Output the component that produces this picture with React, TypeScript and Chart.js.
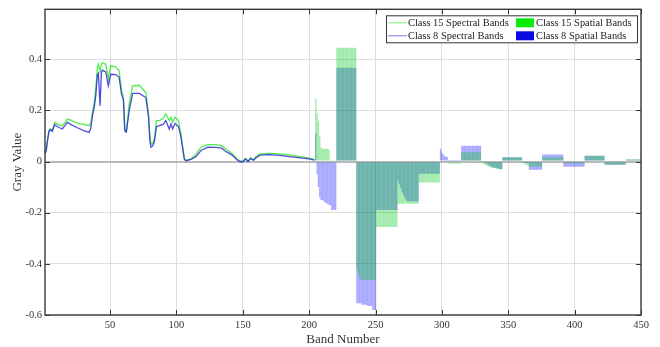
import React, { useEffect, useRef } from "react";
import { Chart, registerables } from "chart.js";

Chart.register(...registerables);

const xTickValues = [50, 100, 150, 200, 250, 300, 350, 400, 450];
const yTickValues = [-0.6, -0.4, -0.2, 0, 0.2, 0.4];

// Spectral bands (lines)
const spectralBands = [
  1, 2, 3, 4, 5, 6.5, 8.3, 10.3, 12, 14, 16, 17.8, 20.4, 23, 25.4, 28, 30.4, 32, 34.2, 35.5,
  36.7, 38, 39.3, 40.5, 41.2, 42.5, 43.5, 44.3, 46.8, 48.7, 50.5, 54.3, 56.8, 58.7, 60.1, 61.1,
  62.3, 64.4, 67, 72, 77, 79, 80, 80.8, 82, 83.3, 85, 87, 90, 92, 94.6, 95.9, 97.1, 99, 101.6,
  103.4, 106, 107.2, 111, 114.8, 118.5, 123.5, 130, 134, 137, 142, 146, 148, 150, 152, 154, 156,
  158, 160, 163, 170, 178, 185, 192, 200, 204,
];
const class15Spectral = [
  0.03, 0.05, 0.09, 0.12, 0.127, 0.12, 0.153, 0.146, 0.142, 0.14, 0.152, 0.166, 0.162, 0.155, 0.15,
  0.147, 0.145, 0.143, 0.14, 0.15, 0.19, 0.225, 0.29, 0.367, 0.38, 0.352, 0.383, 0.386, 0.38, 0.325,
  0.374, 0.37, 0.356, 0.276, 0.25, 0.125, 0.118, 0.224, 0.296, 0.298, 0.27, 0.186, 0.1, 0.068, 0.07,
  0.088, 0.16, 0.16, 0.168, 0.186, 0.16, 0.173, 0.153, 0.173, 0.16, 0.108, 0.01, 0.004, 0.01, 0.03,
  0.056, 0.066, 0.066, 0.062, 0.05, 0.03, 0.008, 0.002, 0.0, 0.012, 0.002, 0.014, 0.006, 0.02, 0.03,
  0.032, 0.03, 0.026, 0.02, 0.013, 0.008,
];
const class8Spectral = [
  0.028, 0.045, 0.085, 0.118, 0.125, 0.118, 0.144, 0.137, 0.132, 0.127, 0.14, 0.153, 0.145, 0.138,
  0.132, 0.126, 0.12, 0.118, 0.114, 0.13, 0.178, 0.21, 0.26, 0.34, 0.345, 0.218, 0.35, 0.357, 0.35,
  0.296, 0.341, 0.34, 0.33, 0.263, 0.24, 0.12, 0.115, 0.198, 0.266, 0.266, 0.25, 0.173, 0.082, 0.056,
  0.06, 0.075, 0.136, 0.14, 0.145, 0.16, 0.127, 0.147, 0.127, 0.149, 0.136, 0.095, 0.008, 0.003,
  0.008, 0.02, 0.043, 0.056, 0.055, 0.052, 0.04, 0.025, 0.005, 0.0, -0.002, 0.01, 0.0, 0.012, 0.005,
  0.015, 0.025, 0.027, 0.024, 0.019, 0.015, 0.01, 0.005,
];

// Spatial bands (bars), bands 205..450
const spatialBands = [
  205, 206, 207, 208, 209, 210, 211, 212, 213, 214, 215, 216, 217, 218, 219, 220,
  221, 222, 223, 224, 225, 226, 227, 228, 229, 230, 231, 232, 233, 234, 235,
  236, 237, 238, 239, 240, 241, 242, 243, 244, 245, 246, 247, 248, 249, 250,
  251, 252, 253, 254, 255, 256, 257, 258, 259, 260, 261, 262, 263, 264, 265, 266,
  267, 268, 269, 270, 271, 272, 273, 274, 275, 276, 277, 278, 279, 280, 281, 282,
  283, 284, 285, 286, 287, 288, 289, 290, 291, 292, 293, 294, 295, 296, 297, 298,
  299, 300, 301, 302, 303, 304, 305, 306, 307, 308, 309, 310, 311, 312, 313, 314,
  315, 316, 317, 318, 319, 320, 321, 322, 323, 324, 325, 326, 327, 328, 329,
  330, 331, 332, 333, 334, 335, 336, 337, 338, 339, 340, 341, 342, 343, 344, 345,
  346, 347, 348, 349, 350, 351, 352, 353, 354, 355, 356, 357, 358, 359, 360,
  361, 362, 363, 364, 365, 366, 367, 368, 369, 370, 371, 372, 373, 374, 375,
  376, 377, 378, 379, 380, 381, 382, 383, 384, 385, 386, 387, 388, 389, 390, 391,
  392, 393, 394, 395, 396, 397, 398, 399, 400, 401, 402, 403, 404, 405, 406, 407,
  408, 409, 410, 411, 412, 413, 414, 415, 416, 417, 418, 419, 420, 421, 422,
  423, 424, 425, 426, 427, 428, 429, 430, 431, 432, 433, 434, 435, 436, 437, 438,
  439, 440, 441, 442, 443, 444, 445, 446, 447, 448, 449, 450,
];
const class15Spatial = [
  0.245, 0.19, 0.155, 0.1, 0.055, 0.05, 0.05, 0.05, 0.05, 0.05, 0.045, 0.003, 0.003, 0.003, 0.003, 0.003,
  0.445, 0.445, 0.445, 0.445, 0.445, 0.445, 0.445, 0.445, 0.445, 0.445, 0.445, 0.445, 0.445, 0.445, 0.445,
  -0.42, -0.44, -0.455, -0.463, -0.463, -0.463, -0.463, -0.463, -0.463, -0.463, -0.463, -0.463, -0.463, -0.463, -0.463,
  -0.256, -0.256, -0.256, -0.256, -0.256, -0.256, -0.256, -0.256, -0.256, -0.256, -0.256, -0.256, -0.256, -0.256, -0.256, -0.256,
  -0.165, -0.165, -0.165, -0.165, -0.165, -0.165, -0.165, -0.165, -0.165, -0.165, -0.165, -0.165, -0.165, -0.165, -0.165, -0.165,
  -0.082, -0.082, -0.082, -0.082, -0.082, -0.082, -0.082, -0.082, -0.082, -0.082, -0.082, -0.082, -0.082, -0.082, -0.082, -0.082,
  0.0, 0.0, 0.0, 0.0, 0.0, 0.0, -0.008, -0.008, -0.008, -0.008, -0.008, -0.008, -0.008, -0.008, -0.008, -0.008,
  0.036, 0.036, 0.036, 0.036, 0.036, 0.036, 0.036, 0.036, 0.036, 0.036, 0.036, 0.036, 0.036, 0.036, 0.036,
  -0.005, -0.008, -0.011, -0.014, -0.017, -0.019, -0.021, -0.023, -0.024, -0.025, -0.026, -0.027, -0.028, -0.029, -0.03, -0.03,
  0.017, 0.017, 0.017, 0.017, 0.017, 0.017, 0.017, 0.017, 0.017, 0.017, 0.017, 0.017, 0.017, 0.017, 0.017,
  -0.004, -0.008, -0.012, -0.015, -0.018, -0.02, -0.02, -0.02, -0.02, -0.02, -0.02, -0.02, -0.02, -0.02, -0.02,
  0.017, 0.017, 0.017, 0.017, 0.017, 0.017, 0.017, 0.017, 0.017, 0.017, 0.017, 0.017, 0.017, 0.017, 0.017, 0.017,
  -0.008, -0.008, -0.008, -0.008, -0.008, -0.008, -0.008, -0.008, -0.008, -0.008, -0.008, -0.008, -0.008, -0.008, -0.008, -0.008,
  0.023, 0.023, 0.023, 0.023, 0.023, 0.023, 0.023, 0.023, 0.023, 0.023, 0.023, 0.023, 0.023, 0.023, 0.023,
  -0.013, -0.013, -0.013, -0.013, -0.013, -0.013, -0.013, -0.013, -0.013, -0.013, -0.013, -0.013, -0.013, -0.013, -0.013, -0.013,
  0.008, 0.008, 0.008, 0.008, 0.008, 0.008, 0.008, 0.008, 0.008, 0.008, 0.008, 0.008,
];
const class8Spatial = [
  0.11, -0.05, -0.1, -0.14, -0.15, -0.15, -0.155, -0.16, -0.163, -0.166, -0.17, -0.172, -0.19, -0.19, -0.19, -0.19,
  0.367, 0.367, 0.367, 0.367, 0.367, 0.367, 0.367, 0.367, 0.367, 0.367, 0.367, 0.367, 0.367, 0.367, 0.367,
  -0.554, -0.554, -0.554, -0.554, -0.56, -0.56, -0.56, -0.56, -0.565, -0.565, -0.565, -0.565, -0.58, -0.58, -0.58,
  -0.19, -0.19, -0.19, -0.19, -0.19, -0.19, -0.19, -0.19, -0.19, -0.19, -0.19, -0.19, -0.19, -0.19, -0.19, -0.19,
  -0.075, -0.09, -0.105, -0.12, -0.13, -0.14, -0.15, -0.155, -0.155, -0.155, -0.155, -0.155, -0.155, -0.155, -0.155, -0.155,
  -0.048, -0.048, -0.048, -0.048, -0.048, -0.048, -0.048, -0.048, -0.048, -0.048, -0.048, -0.048, -0.048, -0.048, -0.048, -0.048,
  0.05, 0.035, 0.028, 0.022, 0.02, 0.018, 0.002, 0.002, 0.002, 0.002, 0.002, 0.002, 0.002, 0.002, 0.002, 0.002,
  0.062, 0.062, 0.062, 0.062, 0.062, 0.062, 0.062, 0.062, 0.062, 0.062, 0.062, 0.062, 0.062, 0.062, 0.062,
  0.0, -0.002, -0.004, -0.007, -0.01, -0.013, -0.016, -0.019, -0.021, -0.023, -0.025, -0.026, -0.027, -0.028, -0.029, -0.03,
  0.017, 0.017, 0.017, 0.017, 0.017, 0.017, 0.017, 0.017, 0.017, 0.017, 0.017, 0.017, 0.017, 0.017, 0.017,
  -0.002, -0.002, -0.002, -0.002, -0.002, -0.032, -0.032, -0.032, -0.032, -0.032, -0.032, -0.032, -0.032, -0.032, -0.032,
  0.027, 0.027, 0.027, 0.027, 0.027, 0.027, 0.027, 0.027, 0.027, 0.027, 0.027, 0.027, 0.027, 0.027, 0.027, 0.027,
  -0.02, -0.02, -0.02, -0.02, -0.02, -0.02, -0.02, -0.02, -0.02, -0.02, -0.02, -0.02, -0.02, -0.02, -0.02, -0.02,
  0.023, 0.023, 0.023, 0.023, 0.023, 0.023, 0.023, 0.023, 0.023, 0.023, 0.023, 0.023, 0.023, 0.023, 0.023,
  -0.013, -0.013, -0.013, -0.013, -0.013, -0.013, -0.013, -0.013, -0.013, -0.013, -0.013, -0.013, -0.013, -0.013, -0.013, -0.013,
  0.008, 0.008, 0.008, 0.008, 0.008, 0.008, 0.008, 0.008, 0.008, 0.008, 0.008, 0.008,
];

const legendLabels = [
  "Class 15 Spectral Bands",
  "Class 8 Spectral Bands",
  "Class 15 Spatial Bands",
  "Class 8 Spatial Bands",
];

const FONT = '"Liberation Serif", "Times New Roman", serif';

const framePlugin = {
  id: "matlabFrame",
  afterDatasetsDraw(chart: any) {
    const { ctx, chartArea } = chart;
    const xs = chart.scales.x;
    const ys = chart.scales.y;
    ctx.save();
    ctx.strokeStyle = "#333";
    ctx.lineWidth = 1;
    ctx.beginPath();
    for (const v of xTickValues) {
      const px = Math.round(xs.getPixelForValue(v)) + 0.5;
      ctx.moveTo(px, chartArea.bottom);
      ctx.lineTo(px, chartArea.bottom - 5);
      ctx.moveTo(px, chartArea.top);
      ctx.lineTo(px, chartArea.top + 5);
    }
    for (const v of yTickValues) {
      const py = Math.round(ys.getPixelForValue(v)) + 0.5;
      ctx.moveTo(chartArea.left, py);
      ctx.lineTo(chartArea.left + 5, py);
      ctx.moveTo(chartArea.right, py);
      ctx.lineTo(chartArea.right - 5, py);
    }
    ctx.stroke();
    ctx.lineWidth = 1.4;
    ctx.strokeStyle = "#3a3a3a";
    ctx.strokeRect(chartArea.left, chartArea.top, chartArea.right - chartArea.left, chartArea.bottom - chartArea.top);
    ctx.restore();
  },
  afterDraw(chart: any) {
    const { ctx, chartArea } = chart;
    const bw = 251;
    const bh = 27;
    const bx = chartArea.right - 255;
    const by = chartArea.top + 6;
    ctx.save();
    ctx.fillStyle = "#fff";
    ctx.fillRect(bx, by, bw, bh);
    ctx.strokeStyle = "#333";
    ctx.lineWidth = 1;
    ctx.strokeRect(bx + 0.5, by + 0.5, bw, bh);
    ctx.font = "10.4px " + FONT;
    ctx.textBaseline = "middle";
    const r1 = by + 7.5;
    const r2 = by + 20.5;
    ctx.lineWidth = 1;
    ctx.strokeStyle = "rgb(120,235,120)";
    ctx.beginPath();
    ctx.moveTo(bx + 2, r1);
    ctx.lineTo(bx + 21, r1);
    ctx.stroke();
    ctx.strokeStyle = "rgb(120,120,235)";
    ctx.beginPath();
    ctx.moveTo(bx + 2, r2);
    ctx.lineTo(bx + 21, r2);
    ctx.stroke();
    ctx.fillStyle = "#222";
    ctx.fillText(legendLabels[0], bx + 22, r1 + 0.5);
    ctx.fillText(legendLabels[1], bx + 22, r2 + 0.5);
    ctx.fillStyle = "rgb(10,235,10)";
    ctx.fillRect(bx + 130, r1 - 4.5, 18, 9);
    ctx.fillStyle = "rgb(10,10,225)";
    ctx.fillRect(bx + 130, r2 - 4.5, 18, 9);
    ctx.fillStyle = "#222";
    ctx.fillText(legendLabels[2], bx + 150, r1 + 0.5);
    ctx.fillText(legendLabels[3], bx + 150, r2 + 0.5);
    ctx.restore();
  },
};

export default function App() {
  const ref = useRef<HTMLCanvasElement | null>(null);

  useEffect(() => {
    document.body.style.margin = "0";
    if (!ref.current) return;
    const chart = new Chart(ref.current, {
      type: "bar",
      data: {
        datasets: [
          {
            type: "line",
            label: legendLabels[0],
            data: spectralBands.map((b, i) => ({ x: b, y: class15Spectral[i] })),
            borderColor: "rgba(50,230,50,0.85)",
            borderWidth: 1.3,
            pointRadius: 0,
            tension: 0,
            order: 1,
          } as any,
          {
            type: "line",
            label: legendLabels[1],
            data: spectralBands.map((b, i) => ({ x: b, y: class8Spectral[i] })),
            borderColor: "rgba(45,45,210,0.85)",
            borderWidth: 1.3,
            pointRadius: 0,
            tension: 0,
            order: 0,
          } as any,
          {
            type: "bar",
            label: legendLabels[2],
            data: spatialBands.map((b, i) => ({ x: b, y: class15Spatial[i] })),
            backgroundColor: "rgba(0,200,30,0.37)",
            borderWidth: 0,
            inflateAmount: 0,
            barPercentage: 1,
            categoryPercentage: 1,
            grouped: false,
            order: 2,
          } as any,
          {
            type: "bar",
            label: legendLabels[3],
            data: spatialBands.map((b, i) => ({ x: b, y: class8Spatial[i] })),
            backgroundColor: "rgba(0,0,255,0.34)",
            borderWidth: 0,
            inflateAmount: 0,
            barPercentage: 1,
            categoryPercentage: 1,
            grouped: false,
            order: 3,
          } as any,
        ],
      },
      options: {
        animation: false,
        responsive: false,
        devicePixelRatio: 1,
        layout: { padding: { left: 10, right: 19, top: 6, bottom: 0 } },
        plugins: { legend: { display: false }, tooltip: { enabled: false } },
        scales: {
          x: {
            type: "linear",
            min: 1,
            max: 450,
            offset: false,
            afterBuildTicks: (s: any) => {
              s.ticks = xTickValues.map((v) => ({ value: v }));
            },
            afterFit: (s: any) => {
              s.height = 32;
            },
            grid: {
              color: "rgb(222,222,222)",
              lineWidth: 1,
              drawTicks: false,
              offset: false,
            },
            border: { display: false },
            ticks: {
              padding: 4,
              color: "#333",
              font: { family: FONT, size: 10.5 },
              maxRotation: 0,
              autoSkip: false,
              callback: (v: any) => String(v),
            },
            title: {
              display: true,
              text: "Band Number",
              color: "#333",
              font: { family: FONT, size: 13 },
              padding: { top: 0, bottom: 0 },
            },
          },
          y: {
            type: "linear",
            min: -0.6,
            max: 0.595,
            afterBuildTicks: (s: any) => {
              s.ticks = yTickValues.map((v) => ({ value: v }));
            },
            afterFit: (s: any) => {
              s.width = 35;
            },
            grid: {
              color: (c: any) => (c.tick && c.tick.value === 0 ? "rgb(185,185,185)" : "rgb(222,222,222)"),
              lineWidth: (c: any) => (c.tick && c.tick.value === 0 ? 2 : 1),
              drawTicks: false,
            },
            border: { display: false },
            ticks: {
              padding: 3,
              color: "#333",
              font: { family: FONT, size: 10.5 },
              autoSkip: false,
              callback: (v: any) => (Math.abs(v) < 1e-9 ? "0" : Number(v).toFixed(1)),
            },
            title: {
              display: true,
              text: "Gray Value",
              color: "#333",
              font: { family: FONT, size: 13 },
              padding: { top: 0, bottom: 0 },
            },
          },
        },
      },
      plugins: [framePlugin],
    });
    return () => chart.destroy();
  }, []);

  return (
    <div style={{ width: 660, height: 347 }}>
      <canvas ref={ref} width={660} height={347} />
    </div>
  );
}
